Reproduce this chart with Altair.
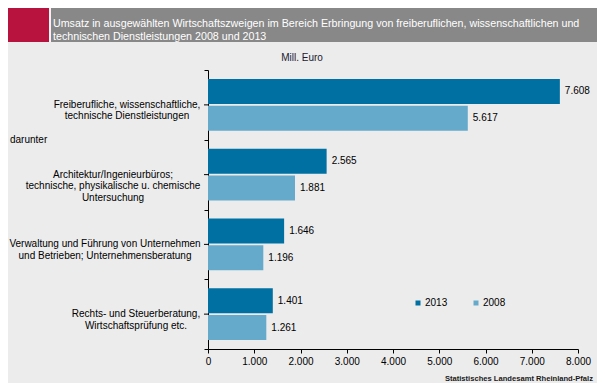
import altair as alt
import pandas as pd

# ---------------- data ----------------
categories = [
    "Freiberufliche, wissenschaftliche, technische Dienstleistungen",
    "Architektur/Ingenieurbüros; technische, physikalische u. chemische Untersuchung",
    "Verwaltung und Führung von Unternehmen und Betrieben; Unternehmensberatung",
    "Rechts- und Steuerberatung, Wirtschaftsprüfung etc.",
]
category_lines = [
    ["Freiberufliche, wissenschaftliche,", "technische Dienstleistungen"],
    ["Architektur/Ingenieurbüros;", "technische, physikalische u. chemische", "Untersuchung"],
    ["Verwaltung und Führung von Unternehmen", "und Betrieben; Unternehmensberatung"],
    ["Rechts- und Steuerberatung,", "Wirtschaftsprüfung etc."],
]
years = ["2013", "2008"]
values_2013 = [7608, 2565, 1646, 1401]
values_2008 = [5617, 1881, 1196, 1261]
x_ticks = [0, 1000, 2000, 3000, 4000, 5000, 6000, 7000, 8000]

title_lines = [
    "Umsatz in ausgewählten Wirtschaftszweigen im Bereich Erbringung von freiberuflichen, wissenschaftlichen und",
    "technischen Dienstleistungen 2008 und 2013",
]
unit_text = "Mill. Euro"
subgroup_text = "darunter"
source_text = "Statistisches Landesamt Rheinland-Pfalz"

# ---------------- styling ----------------
FONT = "Liberation Sans"
DARK = "#0070a3"
LIGHT = "#66aacb"
BG = "#ececec"
BAND_GREY = "#888888"
BAND_RED = "#b8123f"
PLOT_W, PLOT_H = 370, 279
PAD = {"left": 200, "top": 62, "right": 19, "bottom": 34}
LABEL_CENTER_X = [-81, -95, -103, -72]

rows = []
for i, c in enumerate(categories):
    rows.append({"cat": c, "year": "2013", "value": values_2013[i]})
    rows.append({"cat": c, "year": "2008", "value": values_2008[i]})
bars_df = pd.DataFrame(rows)
cat_df = pd.DataFrame({"cat": categories, "lines": category_lines})

y_scale = alt.Scale(domain=categories, paddingInner=0, paddingOuter=0)
y_enc = alt.Y("cat:N", scale=y_scale,
              axis=alt.Axis(labels=False, title=None, ticks=True, tickBand="extent",
                            tickSize=4, tickColor="black", domainColor="black",
                            grid=False, domainWidth=1))
yoff_enc = alt.YOffset("year:N", scale=alt.Scale(domain=years, paddingInner=0.074, paddingOuter=0.33))

german = "replace(format(datum.value, ','), ',', '.')"

base = alt.Chart(bars_df)

bars = base.mark_bar().encode(
    x=alt.X("value:Q", scale=alt.Scale(domain=[0, 8000], nice=False),
            axis=alt.Axis(values=x_ticks, title=None, grid=False, tickSize=4,
                          tickColor="black", domainColor="black", labelColor="black",
                          labelFontSize=10, labelFont=FONT, labelPadding=3,
                          labelFlush=False, labelOverlap=False, labelExpr=german)),
    y=y_enc,
    yOffset=yoff_enc,
    color=alt.Color("year:N", scale=alt.Scale(domain=years, range=[DARK, LIGHT]),
                    legend=alt.Legend(orient="none", legendX=205, legendY=228,
                                      direction="horizontal", title=None,
                                      symbolType="square", symbolSize=25,
                                      symbolStrokeWidth=0, labelFontSize=10,
                                      labelFont=FONT, labelColor="black",
                                      labelOffset=2, columnPadding=23)),
)

value_labels = base.transform_calculate(lbl=german).mark_text(
    align="left", baseline="middle", dx=5, fontSize=10, font=FONT, color="black"
).encode(x="value:Q", y=alt.Y("cat:N"), yOffset=alt.YOffset("year:N"), text="lbl:N")

mid_ticks = alt.Chart(cat_df).mark_rule(color="black", strokeWidth=1).encode(
    y=alt.Y("cat:N"), x=alt.value(-4), x2=alt.value(0)
)

label_layers = []
for c, cx in zip(categories, LABEL_CENTER_X):
    label_layers.append(
        alt.Chart(cat_df).transform_filter(alt.datum.cat == c).mark_text(
            align="center", baseline="middle", fontSize=10, font=FONT,
            color="black", lineHeight=11.5
        ).encode(x=alt.value(cx), y=alt.Y("cat:N"), text="lines")
    )

one = alt.Data(values=[{"a": 1}])

band_white = alt.Chart(one).mark_rect(color="#f4f4f4").encode(
    x=alt.value(-200), x2=alt.value(389), y=alt.value(-62), y2=alt.value(-28))
band_red = alt.Chart(one).mark_rect(color=BAND_RED).encode(
    x=alt.value(-200), x2=alt.value(-159), y=alt.value(-62), y2=alt.value(-28))
band_grey = alt.Chart(one).mark_rect(color=BAND_GREY).encode(
    x=alt.value(-157), x2=alt.value(389), y=alt.value(-62), y2=alt.value(-28))
title_txt = alt.Chart(one).mark_text(
    align="left", baseline="middle", fontSize=10.7, font=FONT, color="white", lineHeight=13
).encode(x=alt.value(-155), y=alt.value(-46), text=alt.value(title_lines))

unit = alt.Chart(one).mark_text(
    align="center", baseline="middle", fontSize=10, font=FONT, color="#1a1a33"
).encode(x=alt.value(94), y=alt.value(-12), text=alt.value(unit_text))

sub = alt.Chart(one).mark_text(
    align="left", baseline="middle", fontSize=10, font=FONT, color="black"
).encode(x=alt.value(-198), y=alt.value(70), text=alt.value(subgroup_text))

source = alt.Chart(one).mark_text(
    align="right", baseline="middle", fontSize=7.6, font=FONT, color="#1a1a1a", fontWeight="bold"
).encode(x=alt.value(385), y=alt.value(309), text=alt.value(source_text))

chart = alt.layer(
    band_white, band_red, band_grey, title_txt, unit, sub, source,
    bars, value_labels, mid_ticks, *label_layers
).properties(
    width=PLOT_W, height=PLOT_H, padding=PAD, autosize="none", background=BG
).configure_view(stroke=None)

chart.save("out.html", embed_options={"renderer": "svg", "actions": False})
